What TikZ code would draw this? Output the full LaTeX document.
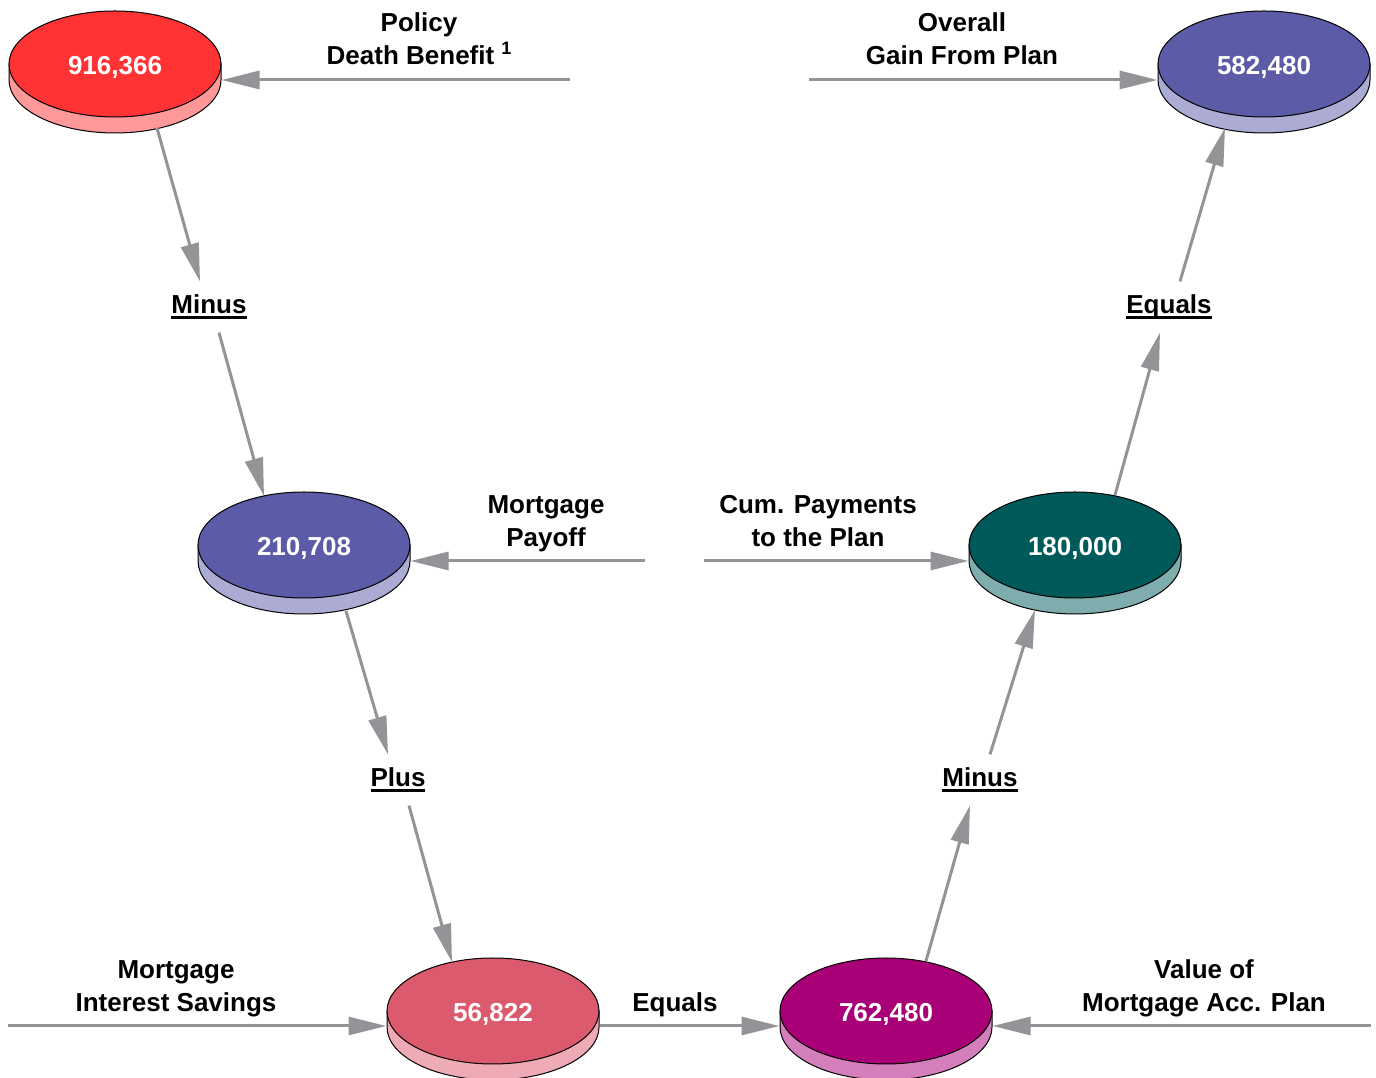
\documentclass[tikz,border=0pt]{standalone}
\usepackage{fontspec}
\setmainfont{Liberation Sans}
\usetikzlibrary{arrows.meta,calc,shapes.geometric}
\definecolor{arr}{HTML}{939398}
\definecolor{redT}{HTML}{FF3333}\definecolor{redS}{HTML}{FF9999}
\definecolor{bluT}{HTML}{5B5BA8}\definecolor{bluS}{HTML}{ABABD3}
\definecolor{pinT}{HTML}{DB5A6E}\definecolor{pinS}{HTML}{EEABB5}
\definecolor{magT}{HTML}{AA0077}\definecolor{magS}{HTML}{D47FBB}
\definecolor{tealT}{HTML}{005A5A}\definecolor{tealS}{HTML}{7FACAC}
\newcommand\ulbox[1]{\setbox0\hbox{#1}\rlap{\rule[-6pt]{\wd0}{3.5pt}}\box0}
\newcommand\diskat[6]{%
  \fill[#5,draw=black,line width=1pt] (#2-106,#3) -- (#2-106,#3-16)
    arc[start angle=180,end angle=360,x radius=106,y radius=53] -- (#2+106,#3) -- cycle;
  \node[disknode,fill=#4] (#1) at (#2,#3) {#6};}
\tikzset{
  disknode/.style={ellipse,draw=black,line width=1pt,minimum width=212pt,minimum height=106pt,inner sep=0pt,text=white,text height=22pt,text depth=0pt,font=\fontsize{26}{33}\selectfont\bfseries},
  lbl/.style={align=center,font=\fontsize{26}{33}\selectfont\bfseries,inner sep=0pt},
  con/.style={draw=arr,line width=3pt,-{Triangle[length=38pt,width=18pt]}}
}
\begin{document}
\begin{tikzpicture}[x=1pt,y=1pt]
\useasboundingbox (0,0) rectangle (1376,1078);
\diskat{d1}{115}{1014}{redT}{redS}{916,366}
\diskat{d2}{304}{533}{bluT}{bluS}{210,708}
\diskat{d3}{493}{67}{pinT}{pinS}{56,822}
\diskat{d4}{886}{67}{magT}{magS}{762,480}
\diskat{d5}{1075}{533}{tealT}{tealS}{180,000}
\diskat{d6}{1264}{1014}{bluT}{bluS}{582,480}

\node[lbl] (lpol) at (419,1039) {Policy\\Death Benefit\hspace{7pt}\raisebox{10pt}{\fontsize{18}{20}\selectfont 1}};
\node[lbl] (lover) at (962,1039) {Overall\\Gain From Plan};
\node[lbl] (lpay) at (546,554) {Mortgage\\Payoff};
\node[lbl] (lcum) at (818,557) {Cum. Payments\\to the Plan};
\node[lbl] (lmis) at (176,89) {Mortgage\\Interest Savings};
\node[lbl] (lval) at (1204,90) {Value of\\Mortgage Acc. Plan};
\node[lbl] (leq) at (675,73) {Equals};
\node[lbl] (m1) at (209,771) {\ulbox{Minus}};
\node[lbl] (p1) at (398,298) {\ulbox{Plus}};
\node[lbl] (m2) at (980,298) {\ulbox{Minus}};
\node[lbl] (e1) at (1169,771) {\ulbox{Equals}};

\coordinate (s1) at (570,998);
\coordinate (s2) at (809,998);
\coordinate (s3) at (645,517);
\coordinate (s4) at (704,517);
\coordinate (s5) at (8,52);
\coordinate (s6) at (1371,52);

\draw[con] (s1) -- ($(d1.east)+(0,-16)$);
\draw[con] (s2) -- ($(d6.west)+(0,-16)$);
\draw[con] (s3) -- ($(d2.east)+(0,-16)$);
\draw[con] (s4) -- ($(d5.west)+(0,-16)$);
\draw[con] (s5) -- ($(d3.west)+(0,-15)$);
\draw[con] (s6) -- ($(d4.east)+(0,-15)$);
\draw[con] ($(d3.east)+(0,-15)$) -- ($(d4.west)+(0,-15)$);

\draw[con] ($(d1.center)+(42,-64)$) -- ($(m1.north)+(-9,13)$);
\draw[con] ($(m1.south)+(10,-13)$) -- ($(d2.center)+(-40,49)$);
\draw[con] ($(d2.center)+(42,-66)$) -- ($(p1.north)+(-10,13)$);
\draw[con] ($(p1.south)+(11,-13)$) -- ($(d3.center)+(-41,49)$);
\draw[con] ($(d4.center)+(40,50)$) -- ($(m2.south)+(-10,-13)$);
\draw[con] ($(m2.north)+(10,13)$) -- ($(d5.center)+(-40,-65)$);
\draw[con] ($(d5.center)+(40,50)$) -- ($(e1.south)+(-9,-13)$);
\draw[con] ($(e1.north)+(11,13)$) -- ($(d6.center)+(-39,-64)$);
\end{tikzpicture}
\end{document}
